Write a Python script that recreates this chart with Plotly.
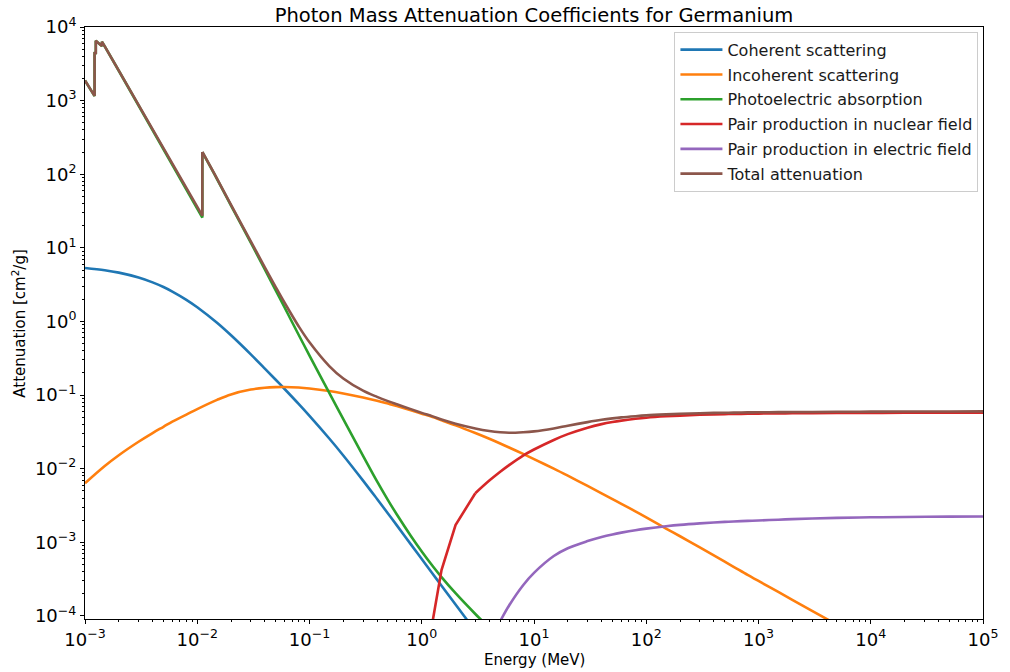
import plotly.graph_objects as go

# ---------------- data ----------------
coh_energy = [1e-3, 1.5e-3, 2e-3, 3e-3, 4e-3, 5e-3, 6e-3, 8e-3, 1e-2, 1.5e-2, 2e-2, 3e-2, 4e-2, 5e-2,
              6e-2, 8e-2, 0.1, 0.15, 0.2, 0.3, 0.4, 0.5, 0.6, 0.8, 1, 1.25, 1.5, 2, 3, 4, 5]
coherent = [5.32, 4.97, 4.61, 3.96, 3.40, 2.94, 2.55, 1.97, 1.561, 0.960, 0.649, 0.3575, 0.2296,
            0.1618, 0.1211, 0.0760, 0.0523, 0.02573, 0.01515, 0.00690, 0.00388, 0.00247, 0.00170,
            9.39e-4, 5.93e-4, 3.75e-4, 2.58e-4, 1.432e-4, 6.24e-5, 3.46e-5, 2.19e-5]

incoh_energy = [1e-3, 1.5e-3, 2e-3, 3e-3, 4e-3, 5e-3, 6e-3, 8e-3, 1e-2, 1.5e-2, 2e-2, 3e-2, 4e-2, 5e-2,
                6e-2, 8e-2, 0.1, 0.15, 0.2, 0.3, 0.4, 0.5, 0.6, 0.8, 1, 1.25, 1.5, 2, 3, 4, 5, 6, 8, 10,
                15, 20, 30, 40, 50, 60, 80, 100, 150, 200, 300, 400, 500, 600, 800, 1e3, 1.5e3, 2e3,
                3e3, 4e3, 5e3]
incoherent = [6.37e-3, 1.091e-2, 1.528e-2, 2.328e-2, 3.055e-2, 3.715e-2, 4.365e-2, 5.433e-2,
              6.457e-2, 8.61e-2, 0.1023, 0.1189, 0.1259, 0.1285, 0.1291, 0.1268, 0.1230, 0.1135,
              0.1052, 0.0929, 0.0840, 0.0767, 0.0710, 0.0623, 0.0560, 0.0504, 0.0455, 0.0388,
              0.0305, 0.0255, 0.0220, 0.01942, 0.01589, 0.01353, 0.01003, 0.00804, 0.00584,
              0.00464, 0.00387, 0.00333, 0.00264, 0.00219, 0.00154, 0.00121, 8.53e-4, 6.64e-4,
              5.47e-4, 4.66e-4, 3.61e-4, 2.99e-4, 2.12e-4, 1.66e-4, 1.175e-4, 9.2e-5, 7.6e-5]

photo_energy = [1e-3, 1.103e-3, 1.217e-3, 1.217e-3, 1.232e-3, 1.248e-3, 1.248e-3, 1.328e-3, 1.414e-3,
                1.414e-3, 1.5e-3, 2e-3, 3e-3, 4e-3, 5e-3, 6e-3, 8e-3, 1e-2, 1.1103e-2, 1.1103e-2,
                1.5e-2, 2e-2, 3e-2, 4e-2, 5e-2, 6e-2, 8e-2, 0.1, 0.15, 0.2, 0.3, 0.4, 0.5, 0.6, 0.8,
                1, 1.25, 1.5, 2, 3, 4, 5]
photoelectric = [1875, 1471, 1153, 4565, 4425, 4280, 6495, 5995, 5495, 6295, 5445, 2544, 868, 404,
                 222.8, 136.8, 63.05, 34.35, 25.85, 199, 86, 37.5, 11.8, 5.1, 2.65, 1.55, 0.66,
                 0.345, 0.107, 0.0473, 0.0150, 0.00674, 0.003755, 0.002389, 0.001222, 7.52e-4,
                 4.77e-4, 3.37e-4, 2.038e-4, 1.065e-4, 6.92e-5, 5.01e-5]

pn_energy = [1.25, 1.5, 2, 3, 4, 5, 6, 8, 10, 15, 20, 30, 40, 50, 60, 80, 100, 150, 200, 300, 400,
             500, 600, 800, 1e3, 1.5e3, 2e3, 3e3, 5e3, 1e4, 2e4, 5e4, 1e5]
pair_nuclear = [8.5e-5, 4.2e-4, 1.72e-3, 4.65e-3, 6.9e-3, 9.1e-3, 1.12e-2, 1.51e-2, 1.824e-2,
                2.460e-2, 2.951e-2, 3.614e-2, 4.036e-2, 4.315e-2, 4.508e-2, 4.764e-2, 4.932e-2,
                5.152e-2, 5.272e-2, 5.408e-2, 5.483e-2, 5.521e-2, 5.546e-2, 5.585e-2, 5.610e-2,
                5.649e-2, 5.662e-2, 5.689e-2, 5.715e-2, 5.741e-2, 5.754e-2, 5.768e-2, 5.781e-2]

pe_energy = [3, 4, 5, 6, 8, 10, 15, 20, 30, 40, 50, 60, 80, 100, 150, 200, 300, 400, 500, 600, 800,
             1e3, 1.5e3, 2e3, 3e3, 5e3, 1e4, 2e4, 5e4, 1e5]
pair_electron = [1.0e-5, 4.5e-5, 8.51e-5, 1.39e-4, 2.62e-4, 3.85e-4, 6.52e-4, 8.32e-4, 1.040e-3,
                 1.183e-3, 1.282e-3, 1.355e-3, 1.462e-3, 1.535e-3, 1.652e-3, 1.726e-3, 1.811e-3,
                 1.862e-3, 1.897e-3, 1.923e-3, 1.959e-3, 1.982e-3, 2.032e-3, 2.065e-3, 2.109e-3,
                 2.148e-3, 2.188e-3, 2.213e-3, 2.234e-3, 2.244e-3]

total_energy = [1e-3, 1.103e-3, 1.217e-3, 1.217e-3, 1.232e-3, 1.248e-3, 1.248e-3, 1.328e-3, 1.414e-3,
                1.414e-3, 1.5e-3, 2e-3, 3e-3, 4e-3, 5e-3, 6e-3, 8e-3, 1e-2, 1.1103e-2, 1.1103e-2,
                1.5e-2, 2e-2, 3e-2, 4e-2, 5e-2, 6e-2, 8e-2, 0.1, 0.15, 0.2, 0.3, 0.4, 0.5, 0.6, 0.8,
                1, 1.25, 1.5, 2, 3, 4, 5, 6, 8, 10, 15, 20, 30, 40, 50, 60, 80, 100, 150, 200, 300,
                400, 500, 600, 800, 1e3, 1.5e3, 2e3, 3e3, 5e3, 1e4, 2e4, 5e4, 1e5]
total = [1880, 1476, 1158, 4570, 4430, 4285, 6500, 6000, 5500, 6300, 5450, 2549, 872, 407.5, 225.9,
         139.5, 65.2, 36.1, 27.4, 200.6, 87.1, 38.25, 12.26, 5.45, 2.94, 1.797, 0.863, 0.522, 0.248,
         0.168, 0.1148, 0.0946, 0.0829, 0.0751, 0.0645, 0.0574, 0.0514, 0.0466, 0.0409, 0.0353,
         0.0326, 0.0313, 0.0308, 0.0313, 0.0322, 0.0353, 0.0384, 0.0430, 0.0462, 0.0483, 0.0498,
         0.0517, 0.0530, 0.0547, 0.0557, 0.0567, 0.0574, 0.0577, 0.0578, 0.0582, 0.0584, 0.0587,
         0.0589, 0.0591, 0.0594, 0.0596, 0.0598, 0.0599, 0.0601]

series_names = ["Coherent scattering", "Incoherent scattering", "Photoelectric absorption",
                "Pair production in nuclear field", "Pair production in electric field",
                "Total attenuation"]
series_colors = ["#1f77b4", "#ff7f0e", "#2ca02c", "#d62728", "#9467bd", "#8c564b"]

x_tick_exps = [-3, -2, -1, 0, 1, 2, 3, 4, 5]
y_tick_exps = [-4, -3, -2, -1, 0, 1, 2, 3, 4]

# ---------------- figure ----------------
FONT = "DejaVu Sans"
LW = 2.6
fig = go.Figure()


def add_series(xs, ys, name, color, split=None):
    """split: index up to which the line is drawn straight (edges); after it, smoothed."""
    if split is None:
        fig.add_trace(go.Scatter(x=xs, y=ys, mode="lines", name=name, legendgroup=name,
                                 line=dict(color=color, width=LW, shape="spline", smoothing=1)))
        return
    fig.add_trace(go.Scatter(x=xs[:split + 1], y=ys[:split + 1], mode="lines", name=name,
                             legendgroup=name, line=dict(color=color, width=LW)))
    fig.add_trace(go.Scatter(x=xs[split:], y=ys[split:], mode="lines", name=name,
                             legendgroup=name, showlegend=False,
                             line=dict(color=color, width=LW, shape="spline", smoothing=1)))


add_series(coh_energy, coherent, series_names[0], series_colors[0])
add_series(incoh_energy, incoherent, series_names[1], series_colors[1])
add_series(photo_energy, photoelectric, series_names[2], series_colors[2],
           split=photo_energy.index(1.1103e-2) + 1)
add_series(pn_energy, pair_nuclear, series_names[3], series_colors[3], split=pn_energy.index(3))
add_series(pe_energy, pair_electron, series_names[4], series_colors[4])
add_series(total_energy, total, series_names[5], series_colors[5],
           split=total_energy.index(1.1103e-2) + 1)


def sup_label(e):
    s = str(e).replace("-", "\u2212")
    return "10<sup>" + s + "</sup>"


def minor_vals(lo, hi):
    out = []
    for k in range(lo, hi):
        for m in range(2, 10):
            out.append(m * 10.0 ** k)
    return out


axis_common = dict(type="log", showgrid=False, zeroline=False, showline=True, linecolor="black",
                   linewidth=1, mirror=True, ticks="outside", ticklen=4, tickwidth=1,
                   tickcolor="black", tickfont=dict(family=FONT, size=18, color="black"))

fig.update_xaxes(**axis_common, range=[-3, 5],
                 tickmode="array", tickvals=[10.0 ** e for e in x_tick_exps],
                 ticktext=[sup_label(e) for e in x_tick_exps],
                 minor=dict(ticks="outside", ticklen=2, tickwidth=1, tickcolor="black",
                            tickmode="array", tickvals=minor_vals(-3, 5), showgrid=False))
fig.update_yaxes(**axis_common, range=[-4.041, 4],
                 tickmode="array", tickvals=[10.0 ** e for e in y_tick_exps],
                 ticktext=[sup_label(e) for e in y_tick_exps],
                 minor=dict(ticks="outside", ticklen=2, tickwidth=1, tickcolor="black",
                            tickmode="array", tickvals=minor_vals(-5, 4), showgrid=False))

fig.update_layout(
    width=1010, height=672,
    margin=dict(l=85, r=17, t=27, b=53, pad=0),
    paper_bgcolor="white", plot_bgcolor="white",
    font=dict(family=FONT, color="black"),
    title=dict(text="Photon Mass Attenuation Coefficients for Germanium",
               font=dict(family=FONT, size=19.5, color="black"),
               x=0.5, xref="paper", xanchor="center", y=1 - 15 / 672, yref="container",
               yanchor="middle"),
    legend=dict(x=(681 - 85) / 908, y=0.992, xanchor="left", yanchor="top",
                font=dict(family=FONT, size=16, color="#1a1a1a"),
                bgcolor="rgba(255,255,255,0.85)", bordercolor="#cccccc", borderwidth=1,
                tracegroupgap=1, itemwidth=42),
    annotations=[
        dict(text="Energy (MeV)", xref="paper", yref="paper", x=0.5, y=-41 / 592,
             xanchor="center", yanchor="middle", showarrow=False,
             font=dict(family=FONT, size=15, color="black")),
        dict(text="Attenuation [cm<sup>2</sup>/g]", xref="paper", yref="paper",
             x=-67 / 908, y=0.5, xanchor="center", yanchor="middle", textangle=-90,
             showarrow=False, font=dict(family=FONT, size=15, color="black")),
    ],
    showlegend=True,
)

fig.write_html("out.html")
